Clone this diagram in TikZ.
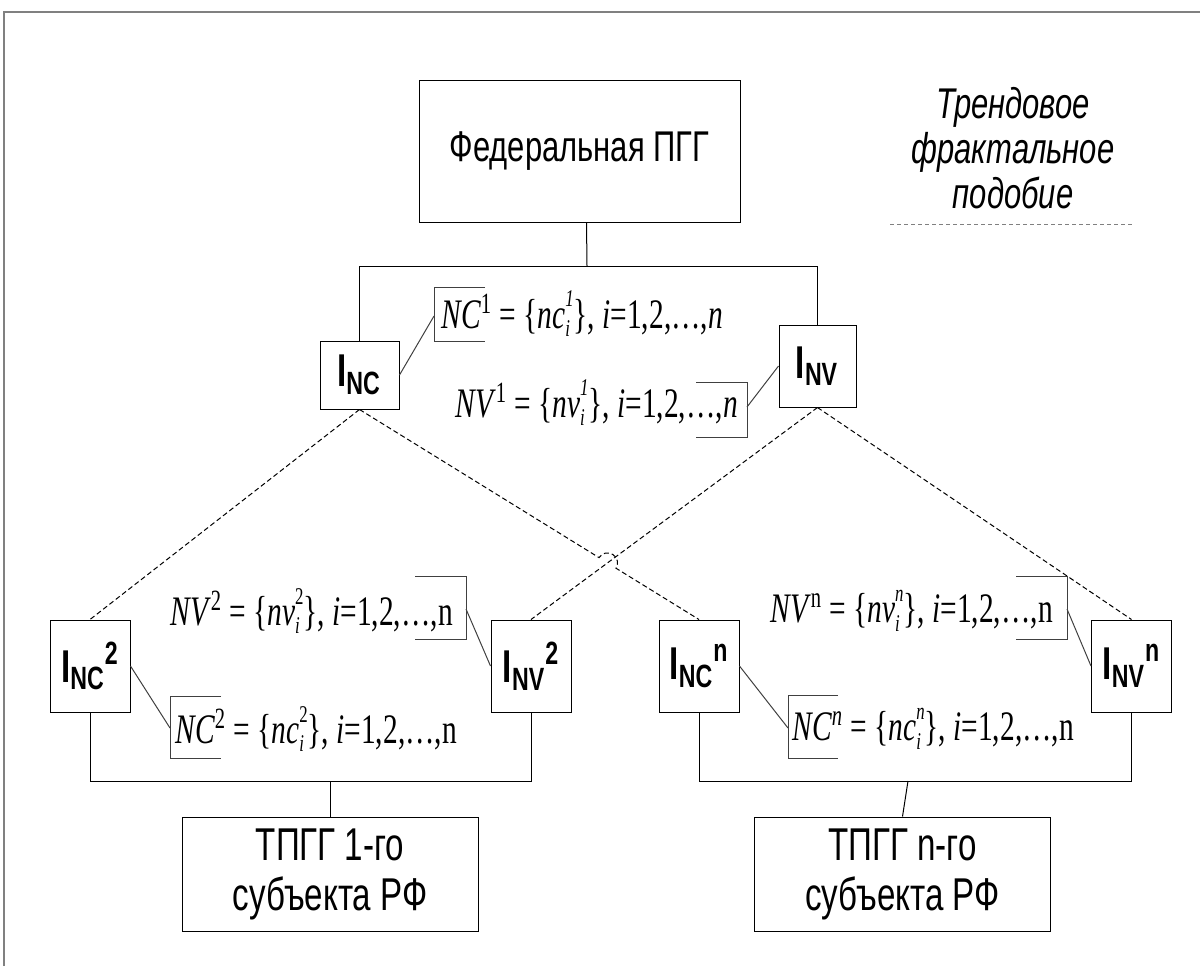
\documentclass[tikz,border=0pt]{standalone}
\usepackage{fontspec}
\setmainfont{Liberation Serif}[FakeStretch=0.7]
\newfontfamily\arialn{Liberation Sans}[FakeStretch=0.72]
\newcommand{\scr}[2]{\rlap{\raisebox{-0.45ex}{\fontsize{12}{12}\selectfont\textit{#1}}}\raisebox{1.1ex}{\fontsize{12}{12}\selectfont #2}}
\newcommand{\setlbl}[5]{\textit{#1}\textsuperscript{#2} = \{\textit{#3}\scr{i}{#4}\}, \textit{i}=1,2,\ldots,#5}
\newcommand{\idx}[2]{I\textsubscript{#1}\textsuperscript{#2}}
\begin{document}
\begin{tikzpicture}[x=0.5pt, y=-0.5pt,
    blk/.style={draw, line width=0.5pt, inner sep=0pt, align=center},
    ibox/.style={blk, minimum width=40pt, minimum height=46pt, font=\arialn\bfseries\fontsize{23}{26}\selectfont},
    pgg/.style={blk, minimum width=148pt, minimum height=57pt, font=\arialn\fontsize{23}{25}\selectfont},
    lbl/.style={inner sep=0pt, anchor=west, font=\fontsize{21}{24}\selectfont},
    brk/.style={line width=0.5pt, black!75},
    fracline/.style={line width=0.5pt, dash pattern=on 2.5pt off 1.5pt}]
    \useasboundingbox (0,0) rectangle (1200,966);
        \draw[gray, line width=0.8pt] (4,966) -- (4,12) -- (1200,12);        %
        \node[blk, minimum width=160.5pt, minimum height=71pt, font=\arialn\fontsize{21.5}{24}\selectfont] (fed) at (579.5,151) {Федеральная ПГГ};
        \node[ibox, minimum width=39.5pt, minimum height=34pt] (inc) at (359.5,375) {\idx{NC}{}};
        \node[ibox, minimum width=38.5pt, minimum height=41pt] (inv) at (817.5,366) {\idx{NV}{}};
        \node[ibox] (inc2) at (90,666) {\idx{NC}{2}};
        \node[ibox] (inv2) at (531,666) {\idx{NV}{2}};
        \node[ibox] (incn) at (699,666) {\idx{NC}{n}};
        \node[ibox] (invn) at (1131.5,666) {\idx{NV}{n}};
        \node[pgg] (tp1) at (330,874) {ТПГГ 1-го\\субъекта РФ};
        \node[pgg] (tpn) at (902.5,874) {ТПГГ n-го\\субъекта РФ};
        \node[align=center, font=\arialn\itshape\fontsize{21.5}{22.5}\selectfont] (trend) at (1013,148) {Трендовое\\фрактальное\\подобие};
        \draw[gray, line width=0.5pt, dash pattern=on 2pt off 1.5pt] (890,224) -- (1132,224);
        % labels and their brackets
        \node[lbl] (nc1) at (441,314) {\setlbl{NC}{1}{nc}{\textit{1}}{\textit{n}}};
        \node[lbl] (nv1) at (455,403) {\setlbl{NV}{1}{nv}{\textit{1}}{\textit{n}}};
        \node[lbl] (nv2) at (170,611) {\setlbl{NV}{2}{nv}{2}{n}};
        \node[lbl] (nc2) at (175,729) {\setlbl{NC}{2}{nc}{2}{n}};
        \node[lbl] (nvn) at (770,611) {\setlbl{NV}{n}{nv}{\textit{n}}{n}};
        \node[lbl] (ncn) at (792,729) {\setlbl{NC}{\textit{n}}{nc}{\textit{n}}{n}};
        \draw[brk] (485,287) -- (434,287) -- (434,341) -- (485,341);
        \draw[brk] (696,382) -- (747,382) -- (747,437) -- (696,437);
        \draw[brk] (415,576) -- (466,576) -- (466,639) -- (415,639);
        \draw[brk] (221,696) -- (170,696) -- (170,758) -- (221,758);
        \draw[brk] (1016,576) -- (1067,576) -- (1067,639) -- (1016,639);
        \draw[brk] (838,695) -- (788,695) -- (788,758) -- (838,758);
        \coordinate (b1) at (434,316);
        \coordinate (b2) at (747,407);
        \coordinate (b3) at (466,609);
        \coordinate (b4) at (170,728);
        \coordinate (b5) at (1067,609);
        \coordinate (b6) at (788,728);
        \draw[brk] (inc.east) -- (b1);
        \draw[brk] (b2) -- (inv.west);
        \draw[brk] (b3) -- (inv2.west);
        \draw[brk] (inc2.east) -- (b4);
        \draw[brk] (b5) -- (invn.west);
        \draw[brk] (incn.east) -- (b6);
        % tree lines
        \draw[line width=0.5pt] ([xshift=3.5pt]fed.south) -- (587,266);
        \draw[line width=0.5pt] (inc.north) |- (587,266) -| (inv.north);
        \draw[line width=0.5pt] (inc2.south) |- (330,781) -| (inv2.south);
        \draw[line width=0.5pt] (tp1.north) -- (330,781);
        \draw[line width=0.5pt] (incn.south) |- (908,781) -| (invn.south);
        \draw[line width=0.5pt] (tpn.north) -- (908,781);
        % similarity lines
        \coordinate (hop) at (intersection of inc.south--incn.north and inv.south--inv2.north);
        \draw[fracline] (inc.south) -- (inc2.north);
        \draw[fracline] (inv.south) -- (inv2.north);
        \draw[fracline] (inv.south) -- (invn.north);
        \draw[fracline] (inc.south) -- ([shift={(148:5pt)}]hop) arc[start angle=148, end angle=-32, radius=5pt] -- (incn.north);
    \end{tikzpicture}
\end{document}
